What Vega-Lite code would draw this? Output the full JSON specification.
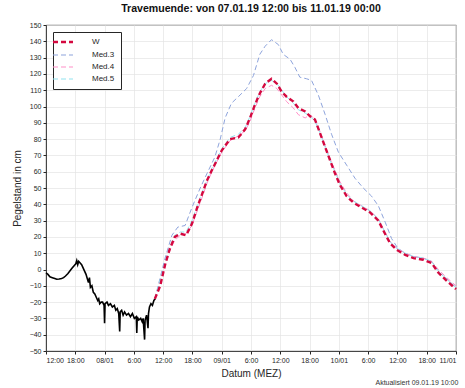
{
  "$schema": "https://vega.github.io/schema/vega-lite/v6.json",
  "width": 410,
  "height": 326,
  "autosize": {"type": "none"},
  "padding": {"left": 46, "top": 25, "right": 9, "bottom": 37},
  "background": "white",
  "config": {
    "font": "Liberation Sans",
    "view": {"stroke": "#262626", "strokeWidth": 0.8},
    "axis": {
      "labelFont": "Liberation Sans",
      "labelFontSize": 7,
      "labelColor": "#262626",
      "titleFont": "Liberation Sans",
      "titleFontSize": 10,
      "titleFontWeight": "normal",
      "titleColor": "#262626",
      "domainColor": "#262626",
      "domainWidth": 0.8,
      "tickColor": "#262626",
      "tickSize": 3,
      "gridColor": "#e4e4e4",
      "gridWidth": 0.7
    },
    "legend": {
      "orient": "top-left",
      "offset": 7,
      "padding": 6,
      "strokeColor": "#262626",
      "fillColor": "white",
      "cornerRadius": 0,
      "symbolType": "stroke",
      "symbolSize": 400,
      "labelFontSize": 8,
      "labelColor": "#262626",
      "rowPadding": 4,
      "labelOffset": 25
    }
  },
  "title": {
    "text": "Travemuende: von 07.01.19 12:00 bis 11.01.19 00:00",
    "fontSize": 10.6,
    "fontWeight": "bold",
    "color": "#111111",
    "offset": 6
  },
  "datasets": {
    "obs": [
      {"h": 0.0, "v": -2}, {"h": 0.4, "v": -3}, {"h": 0.8, "v": -4.5}, {"h": 1.3, "v": -5}, {"h": 1.8, "v": -5.5},
      {"h": 2.2, "v": -6}, {"h": 2.7, "v": -5.8}, {"h": 3.2, "v": -5.5}, {"h": 3.6, "v": -5}, {"h": 4.0, "v": -4},
      {"h": 4.5, "v": -2.5}, {"h": 5.0, "v": -0.5}, {"h": 5.4, "v": 1}, {"h": 5.8, "v": 2.5}, {"h": 6.1, "v": 3.5},
      {"h": 6.3, "v": 5.5}, {"h": 6.5, "v": 3}, {"h": 6.7, "v": 5}, {"h": 7.0, "v": 4}, {"h": 7.3, "v": 3},
      {"h": 7.6, "v": 1}, {"h": 7.9, "v": -1}, {"h": 8.2, "v": -3}, {"h": 8.5, "v": -6}, {"h": 8.7, "v": -8},
      {"h": 8.9, "v": -5}, {"h": 9.1, "v": -11}, {"h": 9.4, "v": -10}, {"h": 9.7, "v": -14}, {"h": 10.0, "v": -15},
      {"h": 10.3, "v": -17}, {"h": 10.6, "v": -19}, {"h": 10.8, "v": -18}, {"h": 11.0, "v": -21}, {"h": 11.3, "v": -20},
      {"h": 11.6, "v": -20}, {"h": 11.9, "v": -22}, {"h": 12.0, "v": -33}, {"h": 12.1, "v": -21}, {"h": 12.5, "v": -20},
      {"h": 12.8, "v": -22}, {"h": 13.2, "v": -21}, {"h": 13.6, "v": -23}, {"h": 14.0, "v": -22}, {"h": 14.3, "v": -25},
      {"h": 14.6, "v": -24}, {"h": 14.9, "v": -27}, {"h": 15.1, "v": -38}, {"h": 15.2, "v": -26}, {"h": 15.5, "v": -25},
      {"h": 15.8, "v": -28}, {"h": 16.1, "v": -26}, {"h": 16.5, "v": -28}, {"h": 16.9, "v": -27}, {"h": 17.3, "v": -29},
      {"h": 17.7, "v": -27}, {"h": 18.1, "v": -30}, {"h": 18.5, "v": -29}, {"h": 18.6, "v": -39}, {"h": 18.7, "v": -29},
      {"h": 19.0, "v": -31}, {"h": 19.4, "v": -30}, {"h": 19.7, "v": -32}, {"h": 19.9, "v": -30}, {"h": 20.2, "v": -43},
      {"h": 20.3, "v": -31}, {"h": 20.6, "v": -28}, {"h": 20.9, "v": -36}, {"h": 21.0, "v": -27}, {"h": 21.2, "v": -23},
      {"h": 21.5, "v": -21}, {"h": 21.8, "v": -22}, {"h": 22.1, "v": -19}, {"h": 22.4, "v": -18}
    ],
    "fc": [
      {"s": "W", "h": 22.3, "v": -18}, {"s": "W", "h": 23.4, "v": -10}, {"s": "W", "h": 24.4, "v": 3}, {"s": "W", "h": 25.4, "v": 13},
      {"s": "W", "h": 26.4, "v": 20}, {"s": "W", "h": 27.5, "v": 22}, {"s": "W", "h": 28.7, "v": 21}, {"s": "W", "h": 29.9, "v": 28},
      {"s": "W", "h": 31.1, "v": 39}, {"s": "W", "h": 32.2, "v": 48}, {"s": "W", "h": 32.9, "v": 54}, {"s": "W", "h": 34.0, "v": 61},
      {"s": "W", "h": 35.0, "v": 67}, {"s": "W", "h": 36.0, "v": 73}, {"s": "W", "h": 37.7, "v": 80}, {"s": "W", "h": 39.4, "v": 81},
      {"s": "W", "h": 40.8, "v": 86}, {"s": "W", "h": 41.8, "v": 93}, {"s": "W", "h": 42.8, "v": 101}, {"s": "W", "h": 43.8, "v": 108},
      {"s": "W", "h": 44.9, "v": 114}, {"s": "W", "h": 46.2, "v": 117}, {"s": "W", "h": 47.3, "v": 114}, {"s": "W", "h": 48.3, "v": 109},
      {"s": "W", "h": 49.3, "v": 106}, {"s": "W", "h": 50.7, "v": 103}, {"s": "W", "h": 51.7, "v": 99}, {"s": "W", "h": 53.1, "v": 97},
      {"s": "W", "h": 54.1, "v": 94}, {"s": "W", "h": 55.1, "v": 92}, {"s": "W", "h": 56.1, "v": 84}, {"s": "W", "h": 57.2, "v": 75},
      {"s": "W", "h": 58.2, "v": 67}, {"s": "W", "h": 59.2, "v": 59}, {"s": "W", "h": 60.2, "v": 52}, {"s": "W", "h": 61.6, "v": 45},
      {"s": "W", "h": 63.0, "v": 41}, {"s": "W", "h": 64.7, "v": 38}, {"s": "W", "h": 66.4, "v": 35}, {"s": "W", "h": 68.1, "v": 30},
      {"s": "W", "h": 69.1, "v": 24}, {"s": "W", "h": 70.5, "v": 16}, {"s": "W", "h": 71.9, "v": 12}, {"s": "W", "h": 73.6, "v": 9},
      {"s": "W", "h": 75.3, "v": 7}, {"s": "W", "h": 77.3, "v": 6}, {"s": "W", "h": 79.0, "v": 4}, {"s": "W", "h": 80.4, "v": -2},
      {"s": "W", "h": 82.1, "v": -7}, {"s": "W", "h": 84.0, "v": -12},

      {"s": "Med.3", "h": 22.3, "v": -18}, {"s": "Med.3", "h": 24.4, "v": 7}, {"s": "Med.3", "h": 25.8, "v": 21}, {"s": "Med.3", "h": 27.0, "v": 26},
      {"s": "Med.3", "h": 28.5, "v": 27}, {"s": "Med.3", "h": 29.9, "v": 38}, {"s": "Med.3", "h": 31.6, "v": 50}, {"s": "Med.3", "h": 33.0, "v": 59},
      {"s": "Med.3", "h": 34.6, "v": 69}, {"s": "Med.3", "h": 35.7, "v": 80}, {"s": "Med.3", "h": 36.7, "v": 93}, {"s": "Med.3", "h": 38.0, "v": 102},
      {"s": "Med.3", "h": 39.4, "v": 106}, {"s": "Med.3", "h": 41.1, "v": 111}, {"s": "Med.3", "h": 42.5, "v": 119}, {"s": "Med.3", "h": 43.8, "v": 132},
      {"s": "Med.3", "h": 44.9, "v": 137}, {"s": "Med.3", "h": 46.2, "v": 141}, {"s": "Med.3", "h": 47.6, "v": 138}, {"s": "Med.3", "h": 48.6, "v": 132},
      {"s": "Med.3", "h": 50.0, "v": 129}, {"s": "Med.3", "h": 51.0, "v": 124}, {"s": "Med.3", "h": 52.0, "v": 118}, {"s": "Med.3", "h": 53.4, "v": 117},
      {"s": "Med.3", "h": 54.4, "v": 116}, {"s": "Med.3", "h": 55.8, "v": 107}, {"s": "Med.3", "h": 57.2, "v": 95}, {"s": "Med.3", "h": 58.5, "v": 83},
      {"s": "Med.3", "h": 59.9, "v": 72}, {"s": "Med.3", "h": 61.6, "v": 64}, {"s": "Med.3", "h": 63.3, "v": 56}, {"s": "Med.3", "h": 65.0, "v": 50},
      {"s": "Med.3", "h": 66.7, "v": 45}, {"s": "Med.3", "h": 68.1, "v": 39}, {"s": "Med.3", "h": 69.5, "v": 29}, {"s": "Med.3", "h": 70.8, "v": 19},
      {"s": "Med.3", "h": 72.1, "v": 13}, {"s": "Med.3", "h": 73.6, "v": 10}, {"s": "Med.3", "h": 75.2, "v": 8}, {"s": "Med.3", "h": 77.2, "v": 7},
      {"s": "Med.3", "h": 79.0, "v": 5}, {"s": "Med.3", "h": 80.3, "v": -1}, {"s": "Med.3", "h": 82.2, "v": -6}, {"s": "Med.3", "h": 84.0, "v": -11},

      {"s": "Med.4", "h": 22.3, "v": -18}, {"s": "Med.4", "h": 24.4, "v": 2}, {"s": "Med.4", "h": 25.4, "v": 12}, {"s": "Med.4", "h": 26.4, "v": 18},
      {"s": "Med.4", "h": 27.5, "v": 21}, {"s": "Med.4", "h": 28.7, "v": 22}, {"s": "Med.4", "h": 29.9, "v": 27}, {"s": "Med.4", "h": 31.1, "v": 37},
      {"s": "Med.4", "h": 32.2, "v": 46}, {"s": "Med.4", "h": 33.0, "v": 53}, {"s": "Med.4", "h": 34.0, "v": 60}, {"s": "Med.4", "h": 35.0, "v": 66},
      {"s": "Med.4", "h": 36.0, "v": 72}, {"s": "Med.4", "h": 37.7, "v": 79}, {"s": "Med.4", "h": 39.4, "v": 82}, {"s": "Med.4", "h": 40.8, "v": 85},
      {"s": "Med.4", "h": 41.8, "v": 91}, {"s": "Med.4", "h": 42.8, "v": 99}, {"s": "Med.4", "h": 43.8, "v": 106}, {"s": "Med.4", "h": 44.9, "v": 111},
      {"s": "Med.4", "h": 46.2, "v": 113}, {"s": "Med.4", "h": 47.3, "v": 111}, {"s": "Med.4", "h": 48.3, "v": 107}, {"s": "Med.4", "h": 49.3, "v": 103},
      {"s": "Med.4", "h": 50.7, "v": 99}, {"s": "Med.4", "h": 51.7, "v": 95}, {"s": "Med.4", "h": 53.1, "v": 93}, {"s": "Med.4", "h": 54.1, "v": 95},
      {"s": "Med.4", "h": 55.1, "v": 92}, {"s": "Med.4", "h": 56.1, "v": 85}, {"s": "Med.4", "h": 57.2, "v": 76}, {"s": "Med.4", "h": 58.2, "v": 68},
      {"s": "Med.4", "h": 59.2, "v": 61}, {"s": "Med.4", "h": 60.2, "v": 54}, {"s": "Med.4", "h": 61.6, "v": 47}, {"s": "Med.4", "h": 63.0, "v": 42},
      {"s": "Med.4", "h": 64.7, "v": 39}, {"s": "Med.4", "h": 66.4, "v": 36}, {"s": "Med.4", "h": 68.1, "v": 31}, {"s": "Med.4", "h": 69.1, "v": 25},
      {"s": "Med.4", "h": 70.5, "v": 17}, {"s": "Med.4", "h": 71.9, "v": 13}, {"s": "Med.4", "h": 73.6, "v": 10}, {"s": "Med.4", "h": 75.3, "v": 8},
      {"s": "Med.4", "h": 77.3, "v": 7}, {"s": "Med.4", "h": 79.0, "v": 5}, {"s": "Med.4", "h": 80.4, "v": 0}, {"s": "Med.4", "h": 82.1, "v": -5},
      {"s": "Med.4", "h": 84.0, "v": -10},

      {"s": "Med.5", "h": 22.3, "v": -18}, {"s": "Med.5", "h": 24.4, "v": 4}, {"s": "Med.5", "h": 25.4, "v": 14}, {"s": "Med.5", "h": 26.4, "v": 21},
      {"s": "Med.5", "h": 27.5, "v": 23}, {"s": "Med.5", "h": 28.7, "v": 23}, {"s": "Med.5", "h": 29.9, "v": 30}, {"s": "Med.5", "h": 31.1, "v": 40},
      {"s": "Med.5", "h": 32.2, "v": 49}, {"s": "Med.5", "h": 33.0, "v": 55}, {"s": "Med.5", "h": 34.0, "v": 62}, {"s": "Med.5", "h": 35.0, "v": 68},
      {"s": "Med.5", "h": 36.0, "v": 74}, {"s": "Med.5", "h": 37.7, "v": 81}, {"s": "Med.5", "h": 39.4, "v": 83}, {"s": "Med.5", "h": 40.8, "v": 87},
      {"s": "Med.5", "h": 41.8, "v": 94}, {"s": "Med.5", "h": 42.8, "v": 102}, {"s": "Med.5", "h": 43.8, "v": 109}, {"s": "Med.5", "h": 44.9, "v": 114},
      {"s": "Med.5", "h": 46.2, "v": 116}, {"s": "Med.5", "h": 47.3, "v": 114}, {"s": "Med.5", "h": 48.3, "v": 110}, {"s": "Med.5", "h": 49.3, "v": 106},
      {"s": "Med.5", "h": 50.7, "v": 102}, {"s": "Med.5", "h": 51.7, "v": 98}, {"s": "Med.5", "h": 53.1, "v": 96}, {"s": "Med.5", "h": 54.1, "v": 94},
      {"s": "Med.5", "h": 55.1, "v": 91}, {"s": "Med.5", "h": 56.1, "v": 84}, {"s": "Med.5", "h": 57.2, "v": 75}, {"s": "Med.5", "h": 58.2, "v": 67},
      {"s": "Med.5", "h": 59.2, "v": 60}, {"s": "Med.5", "h": 60.2, "v": 53}, {"s": "Med.5", "h": 61.6, "v": 46}, {"s": "Med.5", "h": 63.0, "v": 42},
      {"s": "Med.5", "h": 64.7, "v": 39}, {"s": "Med.5", "h": 66.4, "v": 36}, {"s": "Med.5", "h": 68.1, "v": 31}, {"s": "Med.5", "h": 69.1, "v": 25},
      {"s": "Med.5", "h": 70.5, "v": 17}, {"s": "Med.5", "h": 71.9, "v": 13}, {"s": "Med.5", "h": 73.6, "v": 10}, {"s": "Med.5", "h": 75.3, "v": 8},
      {"s": "Med.5", "h": 77.3, "v": 7}, {"s": "Med.5", "h": 79.0, "v": 5}, {"s": "Med.5", "h": 80.4, "v": -1}, {"s": "Med.5", "h": 82.1, "v": -6},
      {"s": "Med.5", "h": 84.0, "v": -11}
    ],
    "note": [{"t": "Aktualisiert 09.01.19 10:00", "h": 67.5, "v": -50}]
  },
  "layer": [
    {
      "data": {"name": "obs"},
      "mark": {"type": "line", "color": "#000000", "strokeWidth": 1.6},
      "encoding": {
        "x": {
          "field": "h", "type": "quantitative",
          "scale": {"domain": [0, 84], "nice": false, "zero": false},
          "axis": {
            "title": "Datum (MEZ)",
            "values": [0, 6, 12, 18, 24, 30, 36, 42, 48, 54, 60, 66, 72, 78, 84],
            "tickCount": 30,
            "labelExpr": "['12:00','18:00','08/01','6:00','12:00','18:00','09/01','6:00','12:00','18:00','10/01','6:00','12:00','18:00','11/01'][round(datum.value/6)]",
            "labelOverlap": false,
            "labelPadding": 2,
            "titlePadding": 5
          }
        },
        "y": {
          "field": "v", "type": "quantitative",
          "scale": {"domain": [-50, 150], "nice": false, "zero": false},
          "axis": {
            "title": "Pegelstand in cm",
            "values": [-50, -40, -30, -20, -10, 0, 10, 20, 30, 40, 50, 60, 70, 80, 90, 100, 110, 120, 130, 140, 150],
            "tickCount": 40,
            "labelOverlap": false,
            "labelPadding": 2,
            "titlePadding": 7
          }
        }
      }
    },
    {
      "data": {"name": "fc"},
      "transform": [{"filter": "datum.s != 'W'"}],
      "mark": {"type": "line", "strokeWidth": 1},
      "encoding": {
        "x": {"field": "h", "type": "quantitative"},
        "y": {"field": "v", "type": "quantitative"},
        "color": {
          "field": "s", "type": "nominal",
          "scale": {"domain": ["W", "Med.3", "Med.4", "Med.5"], "range": ["#d4083f", "#8ea4dc", "#ff8fc8", "#92e4ef"]},
          "legend": {
            "title": null,
            "encode": {"symbols": {"update": {"strokeWidth": {"signal": "datum.value === 'W' ? 2.4 : 1.2"}}}}
          }
        },
        "strokeDash": {
          "field": "s", "type": "nominal",
          "scale": {"domain": ["W", "Med.3", "Med.4", "Med.5"], "range": [[5, 3], [5, 3], [5, 3], [5, 3]]},
          "legend": {
            "title": null,
            "encode": {"symbols": {"update": {"strokeWidth": {"signal": "datum.value === 'W' ? 2.4 : 1.2"}}}}
          }
        }
      }
    },
    {
      "data": {"name": "fc"},
      "transform": [{"filter": "datum.s == 'W'"}],
      "mark": {"type": "line", "strokeWidth": 2.4},
      "encoding": {
        "x": {"field": "h", "type": "quantitative"},
        "y": {"field": "v", "type": "quantitative"},
        "color": {"field": "s", "type": "nominal"},
        "strokeDash": {"field": "s", "type": "nominal"}
      }
    },
    {
      "data": {"name": "note"},
      "mark": {"type": "text", "align": "left", "baseline": "middle", "dy": 32, "fontSize": 7, "color": "#333333", "clip": false},
      "encoding": {
        "x": {"field": "h", "type": "quantitative"},
        "y": {"field": "v", "type": "quantitative"},
        "text": {"field": "t"}
      }
    }
  ]
}
